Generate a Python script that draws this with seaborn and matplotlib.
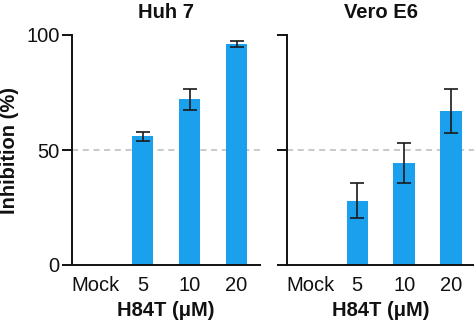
import matplotlib
matplotlib.use("Agg")
import matplotlib.pyplot as plt
import seaborn as sns
import pandas as pd
import numpy as np

categories = ["Mock", "5", "10", "20"]
huh7_values = [0, 56, 72, 96]
huh7_errors = [0, 2.0, 4.5, 1.3]
vero_values = [0, 28, 44.5, 67]
vero_errors = [0, 7.7, 8.7, 9.6]
panel_titles = ["Huh 7", "Vero E6"]
ytick_values = [0, 50, 100]

sns.set_theme(style="ticks")
plt.rcParams["font.family"] = ["Liberation Sans", "DejaVu Sans"]

fig = plt.figure(figsize=(4.74, 3.23), dpi=100)
ax1 = fig.add_axes([72/474, 1-265/323, (260-72)/474, 230/323])
ax2 = fig.add_axes([287/474, 1-265/323, (474.5-287)/474, 230/323])

color = "#1BA0EE"
fs = 14.5
for ax, vals, errs, title in [(ax1, huh7_values, huh7_errors, panel_titles[0]),
                              (ax2, vero_values, vero_errors, panel_titles[1])]:
    df = pd.DataFrame({"cat": categories, "val": vals})
    sns.barplot(data=df, x="cat", y="val", ax=ax, color=color, width=0.46,
                saturation=1, errorbar=None, edgecolor="none")
    xs = np.arange(len(categories))
    for x, v, e in zip(xs, vals, errs):
        if e > 0:
            ax.errorbar(x, v, yerr=e, fmt="none", ecolor="#1a1a1a", elinewidth=1.2,
                        capsize=5, capthick=1.2, zorder=5)
    ax.axhline(50, color="#bbbbbb", linestyle=(0, (4, 3)), linewidth=1.1, zorder=0)
    ax.set_xlim(-0.5, 3.5)
    ax.set_ylim(0, 100)
    ax.set_yticks(ytick_values)
    ax.spines["top"].set_visible(False)
    ax.spines["right"].set_visible(False)
    ax.spines["left"].set_linewidth(1.4)
    ax.spines["bottom"].set_linewidth(1.4)
    ax.spines["left"].set_color("#111111")
    ax.spines["bottom"].set_color("#111111")
    ax.tick_params(axis="y", length=7, width=1.4, labelsize=fs, color="#111111",
                   labelcolor="#111111", pad=2)
    ax.tick_params(axis="x", length=0, labelsize=fs, pad=8, labelcolor="#111111")
    ax.set_title(title, fontsize=fs, fontweight="bold", pad=12, color="#111111")
    ax.set_xlabel("H84T (μM)", fontsize=fs, fontweight="bold", labelpad=4, color="#111111")
    ax.set_ylabel("")

ax1.set_ylabel("Inhibition (%)", fontsize=fs, fontweight="bold", color="#111111")
ax1.yaxis.set_label_coords(-0.28, 0.5)
ax2.set_yticklabels([])

fig.savefig("out.png", dpi=100)
